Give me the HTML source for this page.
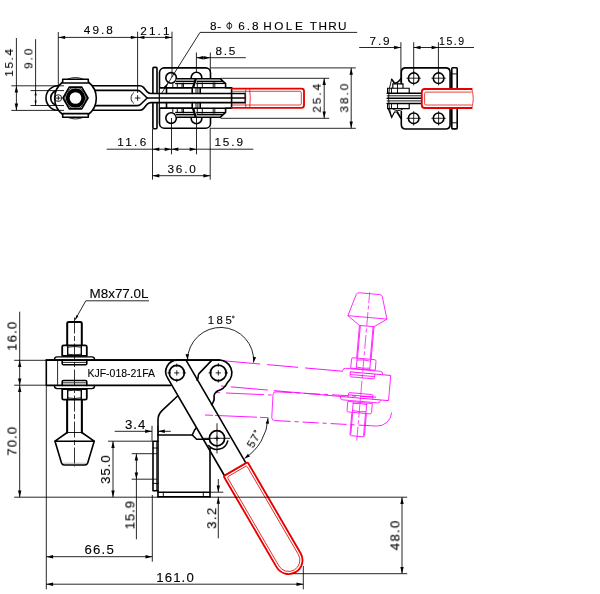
<!DOCTYPE html>
<html><head><meta charset="utf-8"><title>KJF-018-21FA</title>
<style>
html,body{margin:0;padding:0;background:#fff;}
body{width:600px;height:594px;overflow:hidden;font-family:"Liberation Sans",sans-serif;}
svg{display:block;}
.k{fill:none;stroke:#000;stroke-width:1.6;stroke-linecap:round;stroke-linejoin:round;}
.kw{fill:#fff;stroke:#000;stroke-width:1.6;stroke-linecap:round;stroke-linejoin:round;}
.k2{fill:none;stroke:#000;stroke-width:1.15;stroke-linecap:butt;}
.k3{fill:none;stroke:#000;stroke-width:1.35;stroke-linecap:butt;}
.m{fill:none;stroke:#000;stroke-width:0.9;stroke-linecap:round;stroke-linejoin:round;}
.n{fill:none;stroke:#000;stroke-width:0.85;}
.nd{fill:none;stroke:#000;stroke-width:0.8;stroke-dasharray:4 2;}
.nc{fill:none;stroke:#000;stroke-width:0.8;stroke-dasharray:16 2.5 5 2.5;}
.g{fill:none;stroke:#888;stroke-width:0.6;}
.a{fill:#000;stroke:none;}
.w{fill:#fff;stroke:none;}
.r{fill:none;stroke:#e60000;stroke-width:1.85;stroke-linecap:round;stroke-linejoin:round;}
.rw{fill:#fff;stroke:#e60000;stroke-width:1.85;stroke-linecap:round;stroke-linejoin:round;}
.rn{fill:none;stroke:#e60000;stroke-width:0.75;}
.p{fill:none;stroke:#ff00ff;stroke-width:0.8;}
.pd{fill:none;stroke:#ff00ff;stroke-width:0.9;stroke-dasharray:34 6;}
.pc{fill:none;stroke:#ff00ff;stroke-width:0.7;stroke-dasharray:14 2.5 4 2.5;}
.t{font-family:"Liberation Sans",sans-serif;fill:#000;stroke:#000;stroke-width:0.1;will-change:opacity;}
</style></head><body>
<svg width="600" height="594" viewBox="0 0 600 594">
<rect x="0" y="0" width="600" height="594" fill="#fff"/>
<g id="topview">
<rect class="k" x="159.5" y="67.9" width="51" height="60.3" rx="4.8"/>
<path class="k" d="M152.9,93 V68.4 Q152.9,67.4 153.9,67.4 H156 Q157,67.4 157,68.4 V93" />
<path class="k" d="M152.9,103.5 V127.8 Q152.9,128.8 153.9,128.8 H156 Q157,128.8 157,127.8 V103.5" />
<g>
<circle class="kw" cx="171.1" cy="77.9" r="5.3" />
<circle class="kw" cx="196.5" cy="77.6" r="5.3" />
<path class="w" d="M176.4,78.8 H220.4 L225.6,83.6 V87.8 H231.6 V98.2 H159.9 V87.9 H172.6 V83.4 H175 Z" />
<path class="k" d="M176.4,78.8 H220.4 L225.6,83.6 V87.8 H231.6 V98" />
<line class="k3" x1="175.8" y1="81.3" x2="194.4" y2="81.3"/>
<line class="k3" x1="175.2" y1="83.5" x2="193.7" y2="83.5"/>
<path class="k" d="M195.7,79 L193,87.9" style="stroke-width:2.3;stroke-linecap:butt"/>
<line class="m" x1="172.8" y1="83.4" x2="172.8" y2="87.9"/>
<line class="m" x1="177.3" y1="83.4" x2="177.3" y2="87.9"/>
<line class="m" x1="182" y1="83.4" x2="182" y2="87.9"/>
<line class="k2" x1="183.3" y1="82.7" x2="183.3" y2="87.9"/>
<line class="k" x1="159.9" y1="87.9" x2="192.8" y2="87.9"/>
<line class="k" x1="166.5" y1="87.9" x2="166.5" y2="93.4"/>
<line class="k" x1="192.2" y1="87.9" x2="192.2" y2="93.4"/>
<line class="k3" x1="196.6" y1="81.3" x2="223" y2="81.3"/>
<line class="k3" x1="196.2" y1="83.4" x2="225.2" y2="83.4"/>
<line class="m" x1="197.3" y1="82.8" x2="197.3" y2="87.8"/>
<line class="m" x1="202.3" y1="82.8" x2="202.3" y2="87.8"/>
<line class="m" x1="213.2" y1="82.8" x2="213.2" y2="87.8"/>
<line class="m" x1="214.8" y1="82.8" x2="214.8" y2="87.8"/>
<line class="k" x1="194.2" y1="87.8" x2="231.6" y2="87.8"/>
<line class="k" x1="200.2" y1="87.8" x2="200.2" y2="93.4"/>
<line class="m" x1="196" y1="88.4" x2="196" y2="93.4"/>
<line class="m" x1="197.9" y1="88.4" x2="197.9" y2="93.4"/>
</g>
<g transform="translate(0 196) scale(1 -1)">
<circle class="kw" cx="171.1" cy="77.9" r="5.3" />
<circle class="kw" cx="196.5" cy="77.6" r="5.3" />
<path class="w" d="M176.4,78.8 H220.4 L225.6,83.6 V87.8 H231.6 V98.2 H159.9 V87.9 H172.6 V83.4 H175 Z" />
<path class="k" d="M176.4,78.8 H220.4 L225.6,83.6 V87.8 H231.6 V98" />
<line class="k3" x1="175.8" y1="81.3" x2="194.4" y2="81.3"/>
<line class="k3" x1="175.2" y1="83.5" x2="193.7" y2="83.5"/>
<path class="k" d="M195.7,79 L193,87.9" style="stroke-width:2.3;stroke-linecap:butt"/>
<line class="m" x1="172.8" y1="83.4" x2="172.8" y2="87.9"/>
<line class="m" x1="177.3" y1="83.4" x2="177.3" y2="87.9"/>
<line class="m" x1="182" y1="83.4" x2="182" y2="87.9"/>
<line class="k2" x1="183.3" y1="82.7" x2="183.3" y2="87.9"/>
<line class="k" x1="159.9" y1="87.9" x2="192.8" y2="87.9"/>
<line class="k" x1="166.5" y1="87.9" x2="166.5" y2="93.4"/>
<line class="k" x1="192.2" y1="87.9" x2="192.2" y2="93.4"/>
<line class="k3" x1="196.6" y1="81.3" x2="223" y2="81.3"/>
<line class="k3" x1="196.2" y1="83.4" x2="225.2" y2="83.4"/>
<line class="m" x1="197.3" y1="82.8" x2="197.3" y2="87.8"/>
<line class="m" x1="202.3" y1="82.8" x2="202.3" y2="87.8"/>
<line class="m" x1="213.2" y1="82.8" x2="213.2" y2="87.8"/>
<line class="m" x1="214.8" y1="82.8" x2="214.8" y2="87.8"/>
<line class="k" x1="194.2" y1="87.8" x2="231.6" y2="87.8"/>
<line class="k" x1="200.2" y1="87.8" x2="200.2" y2="93.4"/>
<line class="m" x1="196" y1="88.4" x2="196" y2="93.4"/>
<line class="m" x1="197.9" y1="88.4" x2="197.9" y2="93.4"/>
</g>
<path class="k" d="M58.3,85.7 H139.6 Q142,85.7 143.5,87.4 L147.3,91.9 Q148.8,93.5 151,93.5 H245.3" />
<path class="k" d="M58.3,110.3 H139.6 Q142,110.3 143.5,108.6 L147.3,104.1 Q148.8,102.6 151,102.6 H245.3" />
<path class="k" d="M58.3,85.7 A12.3,12.3 0 0 0 58.3,110.3" />
<path class="k" d="M58.3,90.4 H137.3 Q139.5,90.4 141,92 L147.2,98 L141,104 Q139.5,105.6 137.3,105.6 H58.3 A7.6,7.6 0 0 1 58.3,90.4 Z" />
<line class="k" x1="147.2" y1="98" x2="245.3" y2="98"/>
<line class="k" x1="245.3" y1="93.5" x2="245.3" y2="102.6"/>
<path class="n" d="M133.9,92.6 A6.6,6.6 0 0 0 133.9,103.4" />
<line class="n" x1="134.8" y1="98" x2="140.4" y2="98"/>
<line class="n" x1="137.6" y1="95.2" x2="137.6" y2="100.8"/>
<path class="kw" d="M62.7,79.2 H88.3 V82 A20.5,20.5 0 0 1 88.3,114.5 V117.3 H62.7 V114.5 A20.5,20.5 0 0 1 62.7,82 Z" />
<line class="k" x1="62.7" y1="83" x2="88.3" y2="83"/>
<line class="k" x1="62.7" y1="113.6" x2="88.3" y2="113.6"/>
<path class="n" d="M67.6,79.2 A20.5,20.5 0 0 1 83.4,79.2" />
<path class="n" d="M67.6,117.3 A20.5,20.5 0 0 0 83.4,117.3" />
<circle class="n" cx="58.3" cy="98.1" r="3.4" />
<line class="n" x1="55.9" y1="98.1" x2="60.7" y2="98.1"/>
<line class="n" x1="58.3" y1="95.7" x2="58.3" y2="100.5"/>
<polygon class="kw" points="88,98 81.75,108.83 69.25,108.83 63,98 69.25,87.17 81.75,87.17"/>
<circle class="m" cx="75.5" cy="98" r="10.7" />
<circle class="k" cx="75.5" cy="98" r="7.8" style="stroke-width:3.9"/>
<path class="r" d="M231.7,88.6 H301.5 Q304,88.6 304,91.1 V105.3 Q304,107.8 301.5,107.8 H231.7" />
<path class="rn" d="M231.7,91.3 H299.8 Q301.3,91.3 301.3,92.8 V103.5 Q301.3,105 299.8,105 H231.7" />
<path class="rn" d="M245.8,88.7 Q244.6,98.2 245.8,107.7" />
<path class="rn" d="M249.7,88.7 Q250.9,98.2 249.7,107.7" />
</g>
<g id="endview">
<path class="k" d="M401.3,83.6 V72.4 Q401.3,67.9 405.8,67.9 H445.6 Q450.1,67.9 450.1,72.4 V124.5 Q450.1,129 445.6,129 H405.8 Q401.3,129 401.3,124.5 V111.6" />
<rect class="k" x="451.8" y="67.8" width="5.4" height="61.1" rx="0.8"/>
<line class="m" x1="451.8" y1="73.9" x2="457.2" y2="73.9"/>
<line class="m" x1="451.8" y1="122.8" x2="457.2" y2="122.8"/>
<circle class="k" cx="413.7" cy="78.2" r="5.3" />
<line class="n" x1="406.5" y1="78.2" x2="420.9" y2="78.2"/>
<line class="n" x1="413.7" y1="71" x2="413.7" y2="85.4"/>
<circle class="k" cx="413.7" cy="118.3" r="5.3" />
<line class="n" x1="406.5" y1="118.3" x2="420.9" y2="118.3"/>
<line class="n" x1="413.7" y1="111.1" x2="413.7" y2="125.5"/>
<circle class="k" cx="438.6" cy="78.2" r="5.3" />
<line class="n" x1="431.4" y1="78.2" x2="445.8" y2="78.2"/>
<line class="n" x1="438.6" y1="71" x2="438.6" y2="85.4"/>
<circle class="k" cx="438.6" cy="118.3" r="5.3" />
<line class="n" x1="431.4" y1="118.3" x2="445.8" y2="118.3"/>
<line class="n" x1="438.6" y1="111.1" x2="438.6" y2="125.5"/>
<path class="m" d="M391.6,79.3 Q385.4,98.3 391.6,117.4" />
<path class="k" d="M391.6,79.3 L394.4,82.9 Q397.6,83.6 400.9,78.6" />
<path class="k2" d="M388.4,109 L391.7,117.4 L394.5,112 H398" />
<path class="k" d="M397.3,112.2 L401,118.4" style="stroke-width:1.8"/>
<path class="m" d="M392.8,109 Q397.9,112.6 403,109" />
<path class="k2" d="M392.8,88.2 V83.8 H403 V88.2" />
<line class="m" x1="397.5" y1="83.8" x2="397.5" y2="88.2"/>
<g>
<path class="k2" d="M387.6,92.9 V88.2 H409.2 V92.9" />
<line class="m" x1="391.5" y1="88.2" x2="391.5" y2="92.9"/>
<line class="m" x1="397.5" y1="88.2" x2="397.5" y2="92.9"/>
</g>
<g transform="translate(0 196.8) scale(1 -1)">
<path class="k2" d="M387.6,92.9 V88.2 H409.2 V92.9" />
<line class="m" x1="391.5" y1="88.2" x2="391.5" y2="92.9"/>
<line class="m" x1="397.5" y1="88.2" x2="397.5" y2="92.9"/>
</g>
<line class="k" x1="387.2" y1="93.3" x2="421.7" y2="93.3"/>
<line class="m" x1="387.2" y1="95.8" x2="421.7" y2="95.8"/>
<line class="k" x1="387.2" y1="98.2" x2="421.7" y2="98.2"/>
<line class="m" x1="387.2" y1="100.9" x2="421.7" y2="100.9"/>
<line class="k" x1="387.2" y1="103.5" x2="421.7" y2="103.5"/>
<path class="rw" d="M471.7,88.95 H424.8 Q421.8,88.95 421.8,91.95 V105 Q421.8,108 424.8,108 H471.7" />
<path class="rn" d="M471.7,92.1 H426 Q424.6,92.1 424.6,93.4 V103.7 Q424.6,105 426,105 H471.7" />
<path class="rn" d="M471.7,88.95 Q474.8,98.5 471.7,108" />
</g>
<g id="sideview">
<g transform="rotate(185 218.3 372.9)">
<path class="pd" d="M214.5,360.1 H46.3" style="stroke-dasharray:5 5 37 6 200"/>
<path class="pd" d="M218.3,385.4 H46.3" style="stroke-dasharray:41 7 31 7 38 7 200"/>
<path class="p" d="M46.3,360.1 V385.4" />
<path class="p" d="M67.2,345 V323.4 Q67.2,321.9 68.7,321.9 H80.3 Q81.8,321.9 81.8,323.4 V345" />
<path class="p" d="M62.2,355.8 V346.8 Q62.2,345.3 63.7,345.3 H85.3 Q86.8,345.3 86.8,346.8 V355.8 Z" />
<line class="p" x1="67.7" y1="345.3" x2="67.7" y2="355.8"/>
<line class="p" x1="81.3" y1="345.3" x2="81.3" y2="355.8"/>
<path class="p" d="M67.7,347.2 Q74.5,345.8 81.3,347.2" />
<path class="p" d="M67.7,354.2 Q74.5,355.4 81.3,354.2" />
<path class="p" d="M54.4,359.6 Q54.6,356.9 57,356.9 H92 Q94.4,356.9 94.6,359.6" />
<path class="p" d="M62.2,360.1 V363.4 Q62.2,364.7 63.5,364.7 H85.5 Q86.8,364.7 86.8,363.4 V360.1" />
<line class="p" x1="62.2" y1="362.4" x2="86.8" y2="362.4"/>
<path class="p" d="M62.2,385.4 V381.8 Q62.2,380.5 63.5,380.5 H85.5 Q86.8,380.5 86.8,381.8 V385.4" />
<line class="p" x1="62.2" y1="382.8" x2="86.8" y2="382.8"/>
<path class="p" d="M54.4,385.9 Q54.6,388.6 57,388.6 H92 Q94.4,388.6 94.6,385.9" />
<path class="p" d="M62.2,389.2 V398.2 Q62.2,399.7 63.7,399.7 H85.3 Q86.8,399.7 86.8,398.2 V389.2 Z" />
<line class="p" x1="67.7" y1="389.2" x2="67.7" y2="399.7"/>
<line class="p" x1="81.3" y1="389.2" x2="81.3" y2="399.7"/>
<path class="p" d="M67.7,390.8 Q74.5,389.6 81.3,390.8" />
<path class="p" d="M67.7,397.8 Q74.5,399.2 81.3,397.8" />
<line class="p" x1="67.2" y1="400" x2="67.2" y2="432.5"/>
<line class="p" x1="81.8" y1="400" x2="81.8" y2="432.5"/>
<line class="p" x1="67.2" y1="432.5" x2="81.8" y2="432.5"/>
<path class="p" d="M67.2,432.5 L55,441.2 H94.2 L81.8,432.5" />
<path class="p" d="M55,441.2 L61.5,463 Q62.2,465 64.3,465 H84.9 Q87,465 87.7,463 L94.2,441.2" />
<line class="p" x1="68.1" y1="400" x2="68.1" y2="432.5"/>
<line class="p" x1="68.1" y1="323" x2="68.1" y2="345"/>
<line class="p" x1="80.9" y1="400" x2="80.9" y2="432.5"/>
<line class="p" x1="80.9" y1="323" x2="80.9" y2="345"/>
<line class="pc" x1="74.5" y1="317.5" x2="74.5" y2="466.5"/>
</g>
<g transform="translate(272.4 406) rotate(3.1)">
<path class="p" d="M0,-11.4 V11.4" />
<path class="p" d="M0,-11.4 Q0,-14.4 3,-14.4" />
<path class="p" d="M0,11.4 Q0,14.4 3,14.4" />
<path class="pd" d="M3,-14.4 H105" style="stroke-dasharray:16 4 4 4"/>
<path class="pd" d="M3,14.4 H99" style="stroke-dasharray:16 4 4 4"/>
<path class="p" d="M99,14.4 H105 A14.4,14.4 0 0 0 119.4,0" />
</g>
<path class="k" d="M158,496.7 V420 Q158,414.4 162,410.6 L177.6,396" />
<line class="k" x1="158" y1="435" x2="192.3" y2="435"/>
<path class="k" d="M196,428.2 L194.6,430 L192.3,435 L196.6,439.2 H209.6" />
<line class="k" x1="210" y1="448.3" x2="210" y2="496.7"/>
<line class="k" x1="158" y1="496.7" x2="210" y2="496.7"/>
<line class="k" x1="158" y1="492.2" x2="210" y2="492.2"/>
<line class="m" x1="163.3" y1="492.2" x2="163.3" y2="496.7"/>
<line class="m" x1="203.3" y1="492.2" x2="203.3" y2="496.7"/>
<path class="k" d="M158,441.2 H153 V490.8 H158" />
<line class="n" x1="156.7" y1="441.2" x2="156.7" y2="490.8"/>
<line class="m" x1="153" y1="448" x2="158" y2="448"/>
<line class="m" x1="153" y1="483.4" x2="158" y2="483.4"/>
<line class="nd" x1="153" y1="453.7" x2="158" y2="453.7"/>
<line class="nd" x1="153" y1="479.2" x2="158" y2="479.2"/>
<path class="k" d="M211.9,360.1 L199,373.6 Q198,375 198.2,376.4 Q198.2,378.4 197,380" />
<path class="k" d="M218.3,360.1 A12.8,12.8 0 0 1 227.4,382.6 Q225.8,386.2 223.2,388.2 Q220.6,389.8 218,390.8 Q214.6,392.6 214,396.2 Q214.6,400.4 213.2,402 Q212.4,403.8 211.6,404.6" />
<path class="pd" d="M217,392.6 L271.5,395" style="stroke-dasharray:3 6 38 4 10"/>
<path class="pd" d="M205,415 L268.5,417.7" style="stroke-dasharray:8 2 42 3 10"/>
<path class="k" d="M224.65,476 L167.57,377.94 A11.6,11.6 0 0 1 177.6,360.1 H186 L245.95,463.1" />
<line class="k" x1="46.3" y1="360.1" x2="218.3" y2="360.1"/>
<circle class="kw" cx="176.8" cy="372.9" r="7.5" style="stroke-width:1.75"/>
<line class="n" x1="174.2" y1="372.9" x2="179.4" y2="372.9"/>
<line class="n" x1="176.8" y1="370.3" x2="176.8" y2="375.5"/>
<circle class="kw" cx="218.3" cy="372.9" r="7.9" style="stroke-width:1.75"/>
<line class="n" x1="215.7" y1="372.9" x2="220.9" y2="372.9"/>
<line class="n" x1="218.3" y1="370.3" x2="218.3" y2="375.5"/>
<circle class="kw" cx="217" cy="438.3" r="7.6" style="stroke-width:1.75"/>
<line class="n" x1="214.4" y1="438.3" x2="219.6" y2="438.3"/>
<line class="n" x1="217" y1="435.7" x2="217" y2="440.9"/>
<line class="n" x1="176.8" y1="363.6" x2="176.8" y2="367.1"/>
<line class="n" x1="176.8" y1="378.7" x2="176.8" y2="382.2"/>
<line class="n" x1="167.5" y1="372.9" x2="171" y2="372.9"/>
<line class="n" x1="182.6" y1="372.9" x2="186.1" y2="372.9"/>
<line class="n" x1="218.3" y1="363.2" x2="218.3" y2="366.7"/>
<line class="n" x1="218.3" y1="379.1" x2="218.3" y2="382.6"/>
<line class="n" x1="208.6" y1="372.9" x2="212.1" y2="372.9"/>
<line class="n" x1="224.5" y1="372.9" x2="228" y2="372.9"/>
<line class="n" x1="217" y1="423.3" x2="217" y2="453.5"/>
<line class="n" x1="203.3" y1="438.3" x2="230" y2="438.3"/>
<path class="k" d="M227.7,441.1 A11,11 0 0 1 208.8,445.7" />
<g transform="translate(235.63 469.15) rotate(59.8)">
<path class="rw" d="M1.5,-13.9 H105.3 A13.9,13.9 0 0 1 105.3,13.9 H1.5 Q0,13.9 0,12.4 V-12.4 Q0,-13.9 1.5,-13.9 Z" />
<path class="rn" d="M3.6,-11.3 H105.3 A11.3,11.3 0 0 1 105.3,11.3 H3.6 Q2.6,11.3 2.6,10.3 V-10.3 Q2.6,-11.3 3.6,-11.3 Z" />
</g>
<path class="k" d="M220,360.1 H46.3 V385.4 H170.6" />
<line class="n" x1="57.6" y1="360.1" x2="57.6" y2="385.4"/>
<path class="k" d="M67.2,345 V323.4 Q67.2,321.9 68.7,321.9 H80.3 Q81.8,321.9 81.8,323.4 V345" style="stroke-width:2"/>
<path class="k" d="M62.2,355.8 V346.8 Q62.2,345.3 63.7,345.3 H85.3 Q86.8,345.3 86.8,346.8 V355.8 Z" style="stroke-width:1.8"/>
<line class="k3" x1="67.7" y1="345.3" x2="67.7" y2="355.8"/>
<line class="k3" x1="81.3" y1="345.3" x2="81.3" y2="355.8"/>
<path class="n" d="M67.7,347.2 Q74.5,345.8 81.3,347.2" />
<path class="n" d="M67.7,354.2 Q74.5,355.4 81.3,354.2" />
<path class="k3" d="M54.4,359.6 Q54.6,356.9 57,356.9 H92 Q94.4,356.9 94.6,359.6" />
<path class="k" d="M62.2,360.1 V363.4 Q62.2,364.7 63.5,364.7 H85.5 Q86.8,364.7 86.8,363.4 V360.1" />
<line class="n" x1="62.2" y1="362.4" x2="86.8" y2="362.4"/>
<path class="k" d="M62.2,385.4 V381.8 Q62.2,380.5 63.5,380.5 H85.5 Q86.8,380.5 86.8,381.8 V385.4" />
<line class="n" x1="62.2" y1="382.8" x2="86.8" y2="382.8"/>
<path class="k3" d="M54.4,385.9 Q54.6,388.6 57,388.6 H92 Q94.4,388.6 94.6,385.9" />
<path class="k" d="M62.2,389.2 V398.2 Q62.2,399.7 63.7,399.7 H85.3 Q86.8,399.7 86.8,398.2 V389.2 Z" style="stroke-width:1.8"/>
<line class="k3" x1="67.7" y1="389.2" x2="67.7" y2="399.7"/>
<line class="k3" x1="81.3" y1="389.2" x2="81.3" y2="399.7"/>
<path class="n" d="M67.7,390.8 Q74.5,389.6 81.3,390.8" />
<path class="n" d="M67.7,397.8 Q74.5,399.2 81.3,397.8" />
<line class="k" x1="67.2" y1="400" x2="67.2" y2="432.5"/>
<line class="k" x1="81.8" y1="400" x2="81.8" y2="432.5"/>
<path class="k" style="stroke-width:1.9" d="M67.2,400 V432.5 M81.8,400 V432.5"/>
<line class="m" x1="67.2" y1="432.5" x2="81.8" y2="432.5"/>
<path class="k" d="M67.2,432.5 L55,441.2 H94.2 L81.8,432.5" />
<path class="k" d="M55,441.2 L61.5,463 Q62.2,465 64.3,465 H84.9 Q87,465 87.7,463 L94.2,441.2" />
<line class="g" x1="63" y1="463.2" x2="86.2" y2="463.2"/>
<line class="nc" x1="74.5" y1="317.5" x2="74.5" y2="466.5"/>
</g>
<g id="dims">
<line class="n" x1="58.3" y1="32" x2="58.3" y2="85"/>
<line class="n" x1="137.6" y1="31.7" x2="137.6" y2="93"/>
<line class="n" x1="172" y1="31.7" x2="172" y2="77"/>
<line class="n" x1="58.3" y1="37.4" x2="172" y2="37.4"/>
<polygon class="a" points="58.3,37.4 65.1,35.7 65.1,39.1"/>
<polygon class="a" points="137.6,37.4 130.8,39.1 130.8,35.7"/>
<polygon class="a" points="137.6,37.4 144.4,35.7 144.4,39.1"/>
<polygon class="a" points="172,37.4 165.2,39.1 165.2,35.7"/>
<text class="t" font-size="10.7" letter-spacing="1.8" transform="translate(83.86 34.4) scale(1.1 1)">49.8</text>
<text class="t" font-size="10.7" letter-spacing="1.94" transform="translate(140.25 34.6) scale(1.1 1)">21.1</text>
<line class="n" x1="16.4" y1="38" x2="16.4" y2="110.4"/>
<line class="n" x1="35.6" y1="39.2" x2="35.6" y2="105.5"/>
<line class="n" x1="11.3" y1="85.8" x2="64" y2="85.8"/>
<line class="n" x1="11.3" y1="110.4" x2="64" y2="110.4"/>
<line class="n" x1="30.5" y1="90.6" x2="64" y2="90.6"/>
<line class="n" x1="30.5" y1="105.5" x2="64" y2="105.5"/>
<polygon class="a" points="16.4,85.8 18.1,92.6 14.7,92.6"/>
<polygon class="a" points="16.4,110.4 14.7,103.6 18.1,103.6"/>
<polygon class="a" points="35.6,90.6 36.6,95.6 34.6,95.6"/>
<polygon class="a" points="35.6,105.5 34.6,100.5 36.6,100.5"/>
<text class="t" font-size="10.7" letter-spacing="1.45" transform="translate(13 62.4) rotate(-90) translate(-14.22 0) scale(1.1 1)">15.4</text>
<text class="t" font-size="10.7" letter-spacing="1.8" transform="translate(32.4 58.5) rotate(-90) translate(-10.3 0) scale(1.1 1)">9.0</text>
<line class="n" x1="161.6" y1="93.4" x2="200" y2="32.4"/>
<line class="n" x1="200" y1="32.4" x2="357.2" y2="32.4"/>
<polygon class="a" points="168.2,82.7 166.19,88.52 163.82,87.03"/>
<text class="t" font-size="10.7" letter-spacing="0.7" transform="translate(209.99 29.5) scale(1.1 1)">8-</text>
<g class="n"><ellipse cx="229.3" cy="25.8" rx="2.5" ry="2.7"/><line x1="229.3" y1="21.8" x2="229.3" y2="29.8"/></g>
<text class="t" font-size="10.7" letter-spacing="1.8" transform="translate(238.35 29.5) scale(1.1 1)">6.8</text>
<text class="t" font-size="10.7" letter-spacing="2.3" transform="translate(263.14 29.5) scale(1.1 1)">HOLE</text>
<text class="t" font-size="10.7" letter-spacing="1.24" transform="translate(309.86 29.5) scale(1.1 1)">THRU</text>
<line class="n" x1="196.4" y1="52.5" x2="196.4" y2="73"/>
<line class="n" x1="210.3" y1="52.5" x2="210.3" y2="71.7"/>
<line class="n" x1="196.4" y1="57.7" x2="245.8" y2="57.7"/>
<polygon class="a" points="196.4,57.7 203.2,56 203.2,59.4"/>
<polygon class="a" points="210.3,57.7 203.5,59.4 203.5,56"/>
<text class="t" font-size="10.7" letter-spacing="1.6" transform="translate(215.39 54.7) scale(1.1 1)">8.5</text>
<line class="n" x1="210.5" y1="67.9" x2="355.8" y2="67.9"/>
<line class="n" x1="210.5" y1="128.3" x2="355.8" y2="128.3"/>
<line class="n" x1="220.5" y1="78.3" x2="329.2" y2="78.3"/>
<line class="n" x1="220.5" y1="118.3" x2="329.2" y2="118.3"/>
<line class="n" x1="324.2" y1="78.3" x2="324.2" y2="118.3"/>
<line class="n" x1="351.2" y1="67.9" x2="351.2" y2="128.3"/>
<polygon class="a" points="324.2,78.3 325.9,85.1 322.5,85.1"/>
<polygon class="a" points="324.2,118.3 322.5,111.5 325.9,111.5"/>
<polygon class="a" points="351.2,67.9 352.9,74.7 349.5,74.7"/>
<polygon class="a" points="351.2,128.3 349.5,121.5 352.9,121.5"/>
<text class="t" font-size="10.6" letter-spacing="1.8" transform="translate(320.8 98.1) rotate(-90) translate(-14.45 0) scale(1.1 1)">25.4</text>
<text class="t" font-size="10.6" letter-spacing="1.8" transform="translate(348.2 98.1) rotate(-90) translate(-14.31 0) scale(1.1 1)">38.0</text>
<line class="n" x1="152.5" y1="129" x2="152.5" y2="179.7"/>
<line class="n" x1="210.2" y1="127.7" x2="210.2" y2="179.7"/>
<line class="n" x1="171.5" y1="118" x2="171.5" y2="154.3"/>
<line class="n" x1="196.5" y1="118" x2="196.5" y2="154.3"/>
<line class="n" x1="106.7" y1="149.2" x2="253.3" y2="149.2"/>
<polygon class="a" points="152.5,149.2 159.3,147.5 159.3,150.9"/>
<polygon class="a" points="171.5,149.2 164.7,150.9 164.7,147.5"/>
<polygon class="a" points="171.5,149.2 178.3,147.5 178.3,150.9"/>
<polygon class="a" points="196.5,149.2 189.7,150.9 189.7,147.5"/>
<text class="t" font-size="10.7" letter-spacing="2.09" transform="translate(117.27 146.3) scale(1.1 1)">11.6</text>
<text class="t" font-size="10.7" letter-spacing="1.75" transform="translate(214.38 146.3) scale(1.1 1)">15.9</text>
<line class="n" x1="152.5" y1="175.7" x2="210.2" y2="175.7"/>
<polygon class="a" points="152.5,175.7 159.3,174 159.3,177.4"/>
<polygon class="a" points="210.2,175.7 203.4,177.4 203.4,174"/>
<text class="t" font-size="10.7" letter-spacing="1.58" transform="translate(167.59 173) scale(1.1 1)">36.0</text>
<line class="n" x1="400.9" y1="42.2" x2="400.9" y2="82.5"/>
<line class="n" x1="413.7" y1="42.2" x2="413.7" y2="73"/>
<line class="n" x1="438.4" y1="42.2" x2="438.4" y2="73"/>
<line class="n" x1="359.2" y1="47.5" x2="400.9" y2="47.5"/>
<line class="n" x1="413.7" y1="47.5" x2="474" y2="47.5"/>
<polygon class="a" points="400.9,47.5 394.1,49.2 394.1,45.8"/>
<polygon class="a" points="413.7,47.5 420.5,45.8 420.5,49.2"/>
<polygon class="a" points="438.4,47.5 431.6,49.2 431.6,45.8"/>
<text class="t" font-size="10.7" letter-spacing="1.73" transform="translate(369.45 44.7) scale(1.1 1)">7.9</text>
<text class="t" font-size="10.5" letter-spacing="1.55" transform="translate(439.05 44.8) scale(1.0 1)">15.9</text>
<line class="n" x1="14.2" y1="497.2" x2="407.2" y2="497.2"/>
<line class="n" x1="19.7" y1="311.7" x2="19.7" y2="497.2"/>
<line class="n" x1="14.2" y1="360.3" x2="46.3" y2="360.3"/>
<line class="n" x1="14.2" y1="385.2" x2="46.3" y2="385.2"/>
<polygon class="a" points="19.7,360.3 21.4,367.1 18,367.1"/>
<polygon class="a" points="19.7,385.2 18,378.4 21.4,378.4"/>
<polygon class="a" points="19.7,385.2 21.4,392 18,392"/>
<polygon class="a" points="19.7,497.2 18,490.4 21.4,490.4"/>
<text class="t" font-size="12" letter-spacing="1.03" transform="translate(16.5 336) rotate(-90) translate(-14.76 0) scale(1.1 1)">16.0</text>
<text class="t" font-size="12" letter-spacing="0.91" transform="translate(16.5 441.3) rotate(-90) translate(-14.35 0) scale(1.1 1)">70.0</text>
<line class="n" x1="75.2" y1="319.6" x2="85.8" y2="300.8"/>
<line class="n" x1="85.8" y1="300.8" x2="149" y2="300.8"/>
<polygon class="a" points="75,320 76.5,315.1 78.41,316.18"/>
<text class="t" font-size="12.5" letter-spacing="0" transform="translate(89.53 298) scale(1.0741258741258741 1)">M8x77.0L</text>
<text class="t" font-size="10.6" letter-spacing="0" transform="translate(87.46 377.2) scale(0.988929889298893 1)">KJF-018-21FA</text>
<path class="n" d="M187.51,359.69 A33.1,33.1 0 1 1 253.64,362.52" />
<polygon class="a" points="187.51,359.69 185.47,354.31 188.86,354.1"/>
<polygon class="a" points="253.64,362.52 252.77,356.83 256.13,357.33"/>
<text class="t" font-size="11.4" letter-spacing="2.43" transform="translate(207.85 324.3) scale(1.0 1)">185</text>
<circle class="n" cx="233.3" cy="317" r="0.9"/>
<path class="n" d="M268.03,418.16 A50.8,50.8 0 0 1 244.52,458.39" />
<polygon class="a" points="268.03,418.16 269.05,423.82 265.67,423.41"/>
<polygon class="a" points="244.52,458.39 247.94,453.76 249.96,456.5"/>
<g transform="translate(254.6 438.2) rotate(-60)">
<text class="t" font-size="11.4" letter-spacing="0.93" transform="translate(-9.88 4) scale(1.0 1)">57</text>
<circle class="n" cx="6.2" cy="-3.2" r="0.9"/>
</g>
<line class="n" x1="152" y1="425.8" x2="152" y2="440.8"/>
<line class="n" x1="158" y1="425.8" x2="158" y2="436"/>
<line class="n" x1="114.7" y1="431.3" x2="152" y2="431.3"/>
<line class="n" x1="158" y1="431.3" x2="170.8" y2="431.3"/>
<polygon class="a" points="152,431.3 145.2,433 145.2,429.6"/>
<polygon class="a" points="158,431.3 164.8,429.6 164.8,433"/>
<text class="t" font-size="12" letter-spacing="0.95" transform="translate(124.89 429) scale(1.1 1)">3.4</text>
<line class="n" x1="108" y1="441.2" x2="153" y2="441.2"/>
<line class="n" x1="113" y1="441.2" x2="113" y2="497.2"/>
<polygon class="a" points="113,441.2 114.7,448 111.3,448"/>
<polygon class="a" points="113,497.2 111.3,490.4 114.7,490.4"/>
<text class="t" font-size="12" letter-spacing="0.83" transform="translate(110 469.6) rotate(-90) translate(-14.16 0) scale(1.1 1)">35.0</text>
<line class="n" x1="131.7" y1="453.7" x2="153" y2="453.7"/>
<line class="n" x1="131.7" y1="479.2" x2="153" y2="479.2"/>
<line class="n" x1="136.4" y1="453.7" x2="136.4" y2="539.3"/>
<polygon class="a" points="136.4,453.7 138.1,460.5 134.7,460.5"/>
<polygon class="a" points="136.4,479.2 134.7,472.4 138.1,472.4"/>
<text class="t" font-size="12" letter-spacing="0.77" transform="translate(134.4 515) rotate(-90) translate(-14.26 0) scale(1.1 1)">15.9</text>
<line class="n" x1="218.3" y1="479" x2="218.3" y2="492.2"/>
<line class="n" x1="218.3" y1="496.7" x2="218.3" y2="538.3"/>
<line class="n" x1="210.8" y1="492.2" x2="223.3" y2="492.2"/>
<polygon class="a" points="218.3,492.2 216.6,485.4 220,485.4"/>
<polygon class="a" points="218.3,497 220,503.8 216.6,503.8"/>
<text class="t" font-size="12" letter-spacing="1.22" transform="translate(216.2 518.3) rotate(-90) translate(-10.41 0) scale(1.1 1)">3.2</text>
<line class="n" x1="46.3" y1="385.4" x2="46.3" y2="589.3"/>
<line class="n" x1="152.3" y1="495" x2="152.3" y2="561.7"/>
<line class="n" x1="46.3" y1="556.7" x2="152.3" y2="556.7"/>
<polygon class="a" points="46.3,556.7 53.1,555 53.1,558.4"/>
<polygon class="a" points="152.3,556.7 145.5,558.4 145.5,555"/>
<text class="t" font-size="12" letter-spacing="1.12" transform="translate(84.45 554) scale(1.1 1)">66.5</text>
<line class="n" x1="303.3" y1="566" x2="303.3" y2="589.4"/>
<line class="n" x1="46.3" y1="584.2" x2="303.3" y2="584.2"/>
<polygon class="a" points="46.3,584.2 53.1,582.5 53.1,585.9"/>
<polygon class="a" points="303.3,584.2 296.5,585.9 296.5,582.5"/>
<text class="t" font-size="12" letter-spacing="0.99" transform="translate(156.34 581.7) scale(1.1 1)">161.0</text>
<line class="n" x1="293.6" y1="573.7" x2="407.2" y2="573.7"/>
<line class="n" x1="402" y1="497.2" x2="402" y2="573.7"/>
<polygon class="a" points="402,497.2 403.7,504 400.3,504"/>
<polygon class="a" points="402,573.7 400.3,566.9 403.7,566.9"/>
<text class="t" font-size="12" letter-spacing="1.16" transform="translate(399.4 535.6) rotate(-90) translate(-14.62 0) scale(1.1 1)">48.0</text>
</g>
</svg></body></html>
